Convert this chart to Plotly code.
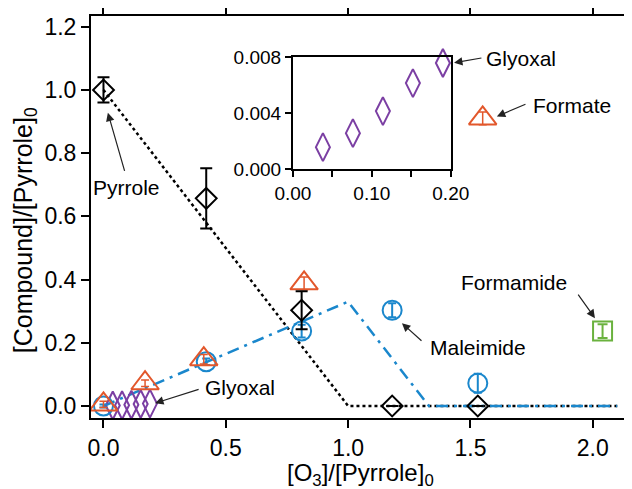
import plotly.graph_objects as go

# ---- data ----
pyr_x = [0.0, 0.42, 0.81, 1.18, 1.53]
pyr_y = [1.0, 0.657, 0.303, 0.0, 0.0]
pyr_err = [0.04, 0.095, 0.06, 0.0, 0.0]

form_x = [0.0, 0.17, 0.41, 0.82, 1.55]
form_y = [0.005, 0.072, 0.148, 0.388, 0.91]
form_err = [0.01, 0.01, 0.015, 0.02, 0.02]

mal_x = [0.0, 0.42, 0.81, 1.18, 1.53]
mal_y = [0.0, 0.14, 0.237, 0.303, 0.072]
mal_err = [0.005, 0.01, 0.02, 0.022, 0.03]

fam_x = [2.04]
fam_y = [0.237]
fam_err = [0.022]

gly_x = [0.038, 0.076, 0.114, 0.152, 0.190]
gly_y = [0.00157, 0.00257, 0.00414, 0.00614, 0.00757]

pyr_fit_x = [0.0, 1.0, 2.1]
pyr_fit_y = [1.0, 0.0, 0.0]
mal_fit_x = [0.0, 1.0, 1.33, 2.1]
mal_fit_y = [0.0, 0.33, 0.0, 0.0]

BLACK = "#000000"
ORANGE = "#E2572B"
BLUE = "#1A87CC"
GREEN = "#6AB23E"
PURPLE = "#7B3FA3"
FONT = "Liberation Sans, Arial, sans-serif"

fig = go.Figure()

fig.add_trace(go.Scatter(x=pyr_fit_x, y=pyr_fit_y, mode="lines",
                         line=dict(color=BLACK, width=2.5, dash="dot"),
                         showlegend=False, cliponaxis=False))
fig.add_trace(go.Scatter(x=mal_fit_x, y=mal_fit_y, mode="lines",
                         line=dict(color=BLUE, width=2.5, dash="12px,6px,3px,6px"),
                         showlegend=False, cliponaxis=False))

fig.add_trace(go.Scatter(x=gly_x, y=gly_y, mode="markers",
                         marker=dict(symbol="diamond-tall-open", size=20,
                                     color=PURPLE, line=dict(width=2, color=PURPLE)),
                         showlegend=False, cliponaxis=False))
fig.add_trace(go.Scatter(x=mal_x, y=mal_y, mode="markers",
                         error_y=dict(type="data", array=mal_err, color=BLUE, thickness=2, width=4),
                         marker=dict(symbol="circle-open", size=19,
                                     color=BLUE, line=dict(width=2, color=BLUE)),
                         showlegend=False, cliponaxis=False))
fig.add_trace(go.Scatter(x=form_x, y=form_y, mode="markers",
                         error_y=dict(type="data", array=form_err, color=ORANGE, thickness=1.5, width=4),
                         marker=dict(symbol="triangle-up-open", size=24,
                                     color=ORANGE, line=dict(width=2, color=ORANGE)),
                         showlegend=False, cliponaxis=False))
fig.add_trace(go.Scatter(x=pyr_x, y=pyr_y, mode="markers",
                         error_y=dict(type="data", array=pyr_err, color=BLACK, thickness=2, width=6),
                         marker=dict(symbol="diamond-open", size=16,
                                     color=BLACK, line=dict(width=2, color=BLACK)),
                         showlegend=False, cliponaxis=False))
fig.add_trace(go.Scatter(x=fam_x, y=fam_y, mode="markers",
                         error_y=dict(type="data", array=fam_err, color=GREEN, thickness=2, width=5),
                         marker=dict(symbol="square-open", size=19,
                                     color=GREEN, line=dict(width=2, color=GREEN)),
                         showlegend=False, cliponaxis=False))

# inset
fig.add_trace(go.Scatter(x=gly_x, y=gly_y, mode="markers", xaxis="x2", yaxis="y2",
                         marker=dict(symbol="diamond-tall-open", size=20,
                                     color=PURPLE, line=dict(width=2, color=PURPLE)),
                         showlegend=False, cliponaxis=False))

axis_common = dict(showline=True, linecolor=BLACK, linewidth=2, mirror="allticks",
                   ticks="outside", ticklen=8, tickwidth=2, tickcolor=BLACK,
                   showgrid=False, zeroline=False, automargin=False,
                   tickfont=dict(family=FONT, size=23, color=BLACK))
inset_common = dict(showline=True, linecolor=BLACK, linewidth=2, mirror=True,
                    ticks="outside", ticklen=6, tickwidth=2, tickcolor=BLACK,
                    showgrid=False, zeroline=False, automargin=False,
                    tickfont=dict(family=FONT, size=19, color=BLACK))

# page body has an 8px margin, so the figure is drawn 8px smaller and offset
fig.update_layout(
    width=624, height=481,
    margin=dict(l=83, r=4, t=8, b=71),
    paper_bgcolor="white", plot_bgcolor="white",
    font=dict(family=FONT, color=BLACK),
    xaxis=dict(range=[-0.051, 2.144], tickvals=[0, 0.5, 1.0, 1.5, 2.0],
               tickformat=".1f", **axis_common),
    yaxis=dict(range=[-0.038, 1.234], tickvals=[0, 0.2, 0.4, 0.6, 0.8, 1.0, 1.2],
               tickformat=".1f", **axis_common),
    xaxis2=dict(domain=[0.376, 0.670], anchor="y2", range=[0, 0.2],
                tickvals=[0, 0.05, 0.10, 0.15, 0.20],
                ticktext=["0.00", "", "0.10", "", "0.20"], **inset_common),
    yaxis2=dict(domain=[0.619, 0.898], anchor="x2", range=[0, 0.008],
                tickvals=[0, 0.004, 0.008], tickformat=".3f", **inset_common),
)

# axis titles
fig.add_annotation(x=0.501, y=-0.141, xref="paper", yref="paper",
                   xanchor="center", yanchor="middle",
                   text="[O<sub>3</sub>]/[Pyrrole]<sub>0</sub>", showarrow=False,
                   font=dict(family=FONT, size=24, color=BLACK))
fig.add_annotation(x=-0.124, y=0.468, xref="paper", yref="paper", textangle=-90,
                   xanchor="center", yanchor="middle",
                   text="[Compound]/[Pyrrole]<sub>0</sub>", showarrow=False,
                   font=dict(family=FONT, size=25, color=BLACK))

# labels and arrows
labels = [
    ("Pyrrole", 0.096, 0.692),
    ("Glyoxal", 1.707, 1.099),
    ("Formate", 1.915, 0.950),
    ("Glyoxal", 0.559, 0.057),
    ("Maleimide", 1.531, 0.186),
    ("Formamide", 1.678, 0.392),
]
for t, x, y in labels:
    fig.add_annotation(x=x, y=y, xref="x", yref="y", text=t, showarrow=False,
                       xanchor="center", yanchor="middle",
                       font=dict(family=FONT, size=21, color=BLACK))

arrows = [
    (0.018, 0.928, 0.088, 0.739),
    (1.433, 1.086, 1.551, 1.102),
    (1.608, 0.916, 1.731, 0.957),
    (0.211, 0.009, 0.395, 0.054),
    (1.220, 0.262, 1.306, 0.202),
    (2.009, 0.278, 1.936, 0.357),
]
for hx, hy, tx, ty in arrows:
    fig.add_annotation(x=hx, y=hy, ax=tx, ay=ty, xref="x", yref="y",
                       axref="x", ayref="y", text="", showarrow=True,
                       arrowhead=2, arrowsize=1.4, arrowwidth=1.2, arrowcolor="#222222")

fig.write_html("out.html")
